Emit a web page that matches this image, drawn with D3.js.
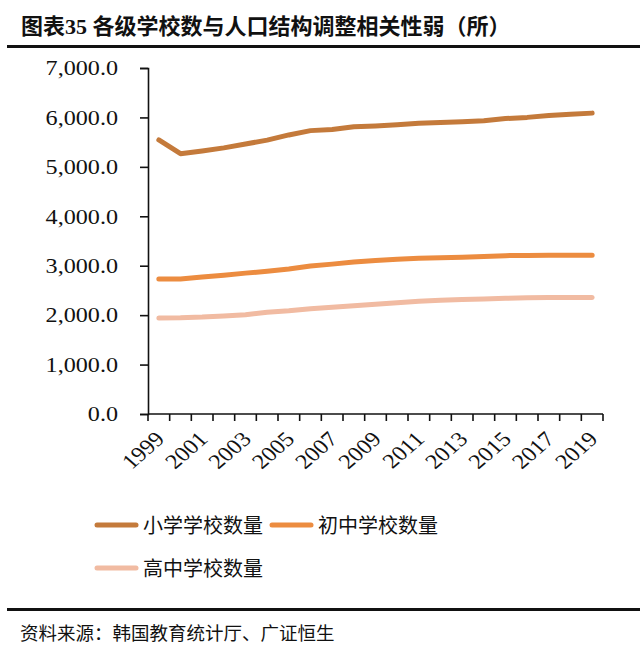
<!DOCTYPE html>
<html><head><meta charset="utf-8">
<script src="https://cdn.jsdelivr.net/npm/d3@7"></script>
<style>
html,body{margin:0;padding:0;background:#fff;}
svg{display:block;}
</style></head>
<body>
<script>
const years = ["1999","2000","2001","2002","2003","2004","2005","2006","2007","2008","2009","2010","2011","2012","2013","2014","2015","2016","2017","2018","2019"];
const primary = [5544,5267,5322,5384,5463,5541,5646,5733,5756,5813,5829,5854,5882,5895,5913,5934,5978,6001,6040,6064,6087];
const middle  = [2731,2731,2770,2809,2850,2888,2935,2995,3032,3077,3106,3130,3153,3162,3173,3186,3204,3209,3213,3214,3214];
const high    = [1940,1945,1960,1985,2010,2060,2090,2130,2160,2190,2220,2250,2280,2300,2315,2325,2340,2350,2355,2358,2356];
const seriesNames = ["小学学校数量","初中学校数量","高中学校数量"];
const seriesColors = ["#C47A3B","#EC8C40","#F1BBA2"];
const yTicks = [0,1000,2000,3000,4000,5000,6000,7000];

const W = 640, H = 659;
const svg = d3.select("body").append("svg").attr("width", W).attr("height", H);
const latin = "'Liberation Serif','Noto Sans CJK SC',serif";
const cjk = "'Liberation Serif','Noto Sans CJK SC',sans-serif";
const stretch = 1.15;

// title
svg.append("text").attr("x", 21).attr("y", 34)
  .attr("font-family", cjk).attr("font-weight", "bold").attr("font-size", 22)
  .attr("fill", "#111").text("图表35 各级学校数与人口结构调整相关性弱（所）");
svg.append("rect").attr("x", 7).attr("y", 45).attr("width", 633).attr("height", 3).attr("fill", "#111");

const x0 = 148, x1 = 603, yTop = 68, yBot = 414;
const x = d3.scalePoint().domain(years).range([x0, x1]).padding(0.5);
const xb = d3.scaleLinear().domain([0, years.length]).range([x0, x1]);
const y = d3.scaleLinear().domain([0, 7000]).range([yBot, yTop]);

// y axis
const yAxis = svg.append("g").attr("transform", `translate(${x0},0)`)
  .call(d3.axisLeft(y).tickValues(yTicks).tickSize(8).tickPadding(22)
    .tickFormat(d => d3.format(",.1f")(d)));
yAxis.select(".domain").attr("stroke", "#111").attr("stroke-width", 1.6);
yAxis.selectAll(".tick line").attr("stroke", "#111").attr("stroke-width", 1.6);
yAxis.selectAll("text").attr("font-family", latin).attr("font-size", 21).attr("fill", "#111")
  .attr("transform", function() { const xx = +d3.select(this).attr("x"); return `translate(${xx},0) scale(${stretch},1)`; })
  .attr("x", 0);

// x axis
const xg = svg.append("g");
xg.append("line").attr("x1", x0).attr("x2", x1).attr("y1", yBot).attr("y2", yBot)
  .attr("stroke", "#111").attr("stroke-width", 1.6);
xg.selectAll("line.tk").data(d3.range(years.length + 1)).join("line").attr("class", "tk")
  .attr("x1", d => xb(d)).attr("x2", d => xb(d)).attr("y1", yBot).attr("y2", yBot + 7)
  .attr("stroke", "#111").attr("stroke-width", 1.6);
xg.selectAll("text").data(years.filter((d, i) => i % 2 === 0)).join("text")
  .attr("transform", d => `translate(${x(d) - 5},${yBot + 16}) scale(${stretch},1) rotate(-45)`)
  .attr("text-anchor", "end").attr("dy", "0.7em")
  .attr("font-family", latin).attr("font-size", 21).attr("fill", "#111").text(d => d);

// lines
const data = [primary, middle, high];
const line = d3.line().x((d, i) => x(years[i])).y(d => y(d));
data.forEach((s, k) => {
  svg.append("path").datum(s).attr("d", line).attr("fill", "none")
    .attr("stroke", seriesColors[k]).attr("stroke-width", 5)
    .attr("stroke-linejoin", "round").attr("stroke-linecap", "round");
});

// legend
const leg = [
  {x: 95, y: 525}, {x: 270, y: 525}, {x: 95, y: 568}
];
leg.forEach((p, k) => {
  svg.append("line").attr("x1", p.x + 2).attr("x2", p.x + 41).attr("y1", p.y).attr("y2", p.y)
    .attr("stroke", seriesColors[k]).attr("stroke-width", 5).attr("stroke-linecap", "round");
  svg.append("text").attr("x", p.x + 48).attr("y", p.y + 8)
    .attr("font-family", cjk).attr("font-size", 20).attr("fill", "#111").text(seriesNames[k]);
});

// bottom rule and source
svg.append("rect").attr("x", 7).attr("y", 608).attr("width", 633).attr("height", 3).attr("fill", "#111");
svg.append("text").attr("x", 20).attr("y", 640)
  .attr("font-family", cjk).attr("font-size", 18.5).attr("fill", "#111")
  .text("资料来源：韩国教育统计厅、广证恒生");
</script>
</body></html>
